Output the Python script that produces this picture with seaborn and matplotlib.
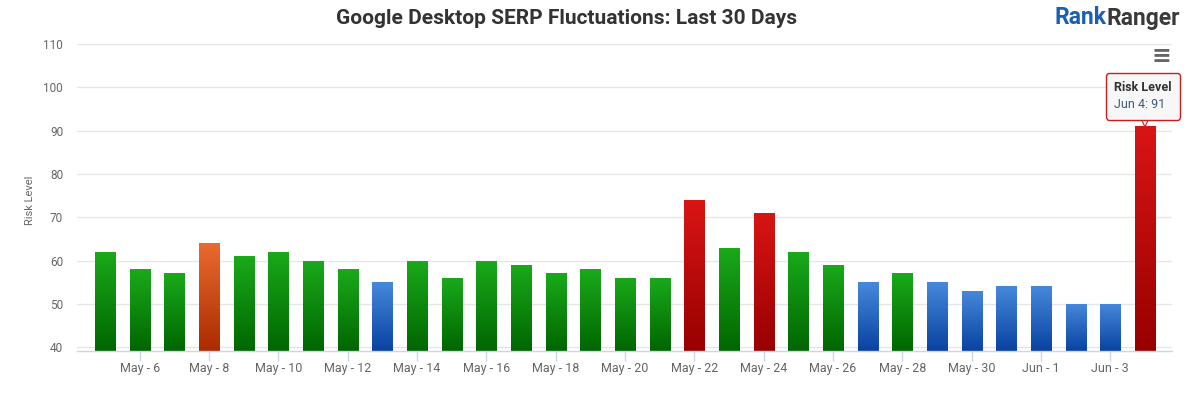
import numpy as np
import pandas as pd
import seaborn as sns
import matplotlib.pyplot as plt
import matplotlib.patheffects as pe
from matplotlib.colors import LinearSegmentedColormap
from matplotlib.offsetbox import TextArea, VPacker, AnnotationBbox

# daily risk level readings, May 5 - Jun 4
days = ["May 5", "May 6", "May 7", "May 8", "May 9", "May 10", "May 11", "May 12",
        "May 13", "May 14", "May 15", "May 16", "May 17", "May 18", "May 19", "May 20",
        "May 21", "May 22", "May 23", "May 24", "May 25", "May 26", "May 27", "May 28",
        "May 29", "May 30", "May 31", "Jun 1", "Jun 2", "Jun 3", "Jun 4"]
risk = [62, 58, 57, 64, 61, 62, 60, 58, 55, 60, 56, 60, 59, 57, 58, 56,
        56, 74, 63, 71, 62, 59, 55, 57, 55, 53, 54, 54, 50, 50, 91]
level = ["normal", "normal", "normal", "medium", "normal", "normal", "normal", "normal",
         "low", "normal", "normal", "normal", "normal", "normal", "normal", "normal",
         "normal", "high", "normal", "high", "normal", "normal", "low", "normal",
         "low", "low", "low", "low", "low", "low", "high"]
tick_labels = ["May - 6", "May - 8", "May - 10", "May - 12", "May - 14", "May - 16",
               "May - 18", "May - 20", "May - 22", "May - 24", "May - 26", "May - 28",
               "May - 30", "Jun - 1", "Jun - 3"]
y_ticks = [40, 50, 60, 70, 80, 90, 100, 110]

levels = ["normal", "medium", "high", "low"]
# top / bottom colour of the gradient fill for each level
gradients = {
    "normal": ("#1aaa1a", "#006600"),
    "medium": ("#ea6b2f", "#ab2a00"),
    "high": ("#d91515", "#980000"),
    "low": ("#4689dc", "#0843a0"),
}

df = pd.DataFrame({"day": days, "risk": risk, "level": level})

sns.set_style("white")
plt.rcParams["font.family"] = ["Roboto", "DejaVu Sans"]

fig = plt.figure(figsize=(12, 3.99), dpi=100)
ax = fig.add_axes([77 / 1200, 1 - 351 / 399, (1172 - 77) / 1200, (351 - 44) / 399])

sns.barplot(data=df, x="day", y="risk", hue="level", hue_order=levels,
            palette={k: v[1] for k, v in gradients.items()}, dodge=False,
            width=0.58, legend=False, linewidth=0, ax=ax)

ymin, ymax = 39.1, 110
xmin, xmax = -0.81, 30.78

# gradient fill clipped to every bar
grad = np.linspace(0, 1, 256).reshape(-1, 1)
for lvl, cont in zip(levels, ax.containers):
    cmap = LinearSegmentedColormap.from_list(lvl, list(gradients[lvl]))
    for bar in cont:
        h = bar.get_height()
        if np.isnan(h):
            continue
        x0, w = bar.get_x(), bar.get_width()
        im = ax.imshow(grad, extent=[x0, x0 + w, ymin, h], origin="upper",
                       cmap=cmap, aspect="auto", zorder=bar.get_zorder() + 0.1)
        im.set_clip_path(bar)

ax.set_xlim(xmin, xmax)
ax.set_ylim(ymin, ymax)
ax.set_aspect("auto")

ax.set_yticks(y_ticks)
ax.set_xticks(range(1, len(days), 2))
ax.set_xticklabels(tick_labels)
ax.tick_params(axis="y", length=0, pad=10, labelsize=8.5, labelcolor="#666666")
ax.tick_params(axis="x", length=7, width=1, color="#ccd6eb", pad=1,
               labelsize=9, labelcolor="#666666", bottom=True)
ax.set_xlabel("")
ax.set_ylabel("")
ax.yaxis.grid(True, color="#e6e6e6", linewidth=1)
ax.set_axisbelow(True)
for side in ["top", "right", "left"]:
    ax.spines[side].set_visible(False)
ax.spines["bottom"].set_color("#ccd6eb")
ax.spines["bottom"].set_linewidth(1)

fig.text(30 / 1200, 1 - 200 / 399, "Risk Level", rotation=90, ha="center", va="center",
         fontsize=8, color="#666666")
fig.text(0.472, 1 - 19 / 399, "Google Desktop SERP Fluctuations: Last 30 Days",
         ha="center", va="center", fontsize=15, fontweight="bold", color="#333333")

# logo and menu icon
fig.text(1106 / 1200, 1 - 18 / 399, "Rank", ha="right", va="center",
         fontsize=16.5, fontweight="bold", color="#1b5fb5")
fig.text(1106 / 1200, 1 - 18 / 399, "Ranger", ha="left", va="center",
         fontsize=16.5, fontweight="bold", color="#3a3a3a")
fig.text(1161 / 1200, 1 - 56 / 399, "\u2261", ha="center", va="center",
         fontsize=17, fontweight="bold", color="#666666", family="DejaVu Sans")

# tooltip on the last bar
last = len(days) - 1
ax.annotate("\u25bc", xy=(last, risk[last]), xytext=(0, 5), textcoords="offset pixels",
            ha="center", va="center", fontsize=7, color="#f7f7f7", family="DejaVu Sans",
            path_effects=[pe.withStroke(linewidth=1.6, foreground="#d21a1a")], zorder=10)
tip = VPacker(children=[
    TextArea("Risk Level", textprops=dict(fontsize=9, fontweight="bold", color="#333333")),
    TextArea(f"{days[last]}: {risk[last]}", textprops=dict(fontsize=9, color="#3d5a80")),
], align="left", pad=0, sep=3)
ab = AnnotationBbox(tip, (last, risk[last]), xybox=(-2, 30), boxcoords="offset pixels",
                    box_alignment=(0.5, 0.5), pad=0.6, annotation_clip=False,
                    bboxprops=dict(boxstyle="round,pad=0.6,rounding_size=0.25",
                                   fc="#f7f7f7", ec="#d21a1a", lw=1), zorder=11)
ax.add_artist(ab)

fig.savefig("out.png", dpi=100)
